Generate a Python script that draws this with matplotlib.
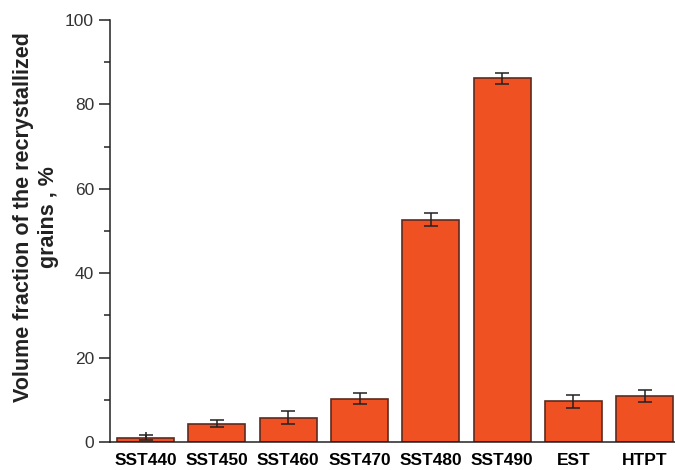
import matplotlib
matplotlib.use("Agg")
import matplotlib.pyplot as plt
from matplotlib.ticker import MultipleLocator

samples = ["SST440", "SST450", "SST460", "SST470", "SST480", "SST490", "EST", "HTPT"]
fraction = [1.0, 4.3, 5.8, 10.3, 52.7, 86.2, 9.6, 10.9]
fraction_err = [0.6, 0.8, 1.5, 1.2, 1.5, 1.3, 1.5, 1.5]

plt.rcParams["font.family"] = ["Liberation Sans", "DejaVu Sans"]

fig = plt.figure(figsize=(6.75, 4.7), dpi=100)
ax = fig.add_axes([0.163, 0.0596, 0.845, 0.8978])

x = list(range(len(samples)))
ax.bar(x, fraction, width=0.8, color="#F05123", edgecolor="#5e2a1c", linewidth=1.2, zorder=2)
ax.errorbar(x, fraction, yerr=fraction_err, fmt="none", ecolor="#222222",
            elinewidth=1.1, capsize=5, capthick=1.1, zorder=3)

ax.set_xlim(-0.5, 7.5)
ax.set_ylim(0, 100)
ax.set_xticks(x)
ax.set_xticklabels(samples, fontsize=12.5, fontweight="bold")
ax.yaxis.set_major_locator(MultipleLocator(20))
ax.yaxis.set_minor_locator(MultipleLocator(10))
ax.tick_params(axis="x", direction="in", length=7, width=1.1, pad=8, color="#222222")
ax.tick_params(axis="y", which="major", direction="out", length=8, width=1.1,
               labelsize=12.5, labelcolor="#333333", color="#222222")
ax.tick_params(axis="y", which="minor", direction="out", length=4.5, width=1.1, color="#222222")

for side in ("top", "right"):
    ax.spines[side].set_visible(False)
for side in ("left", "bottom"):
    ax.spines[side].set_linewidth(1.1)
    ax.spines[side].set_color("#222222")

ax.set_ylabel("Volume fraction of the recrystallized\ngrains , %", fontsize=15.5,
              fontweight="bold", linespacing=1.2,
              multialignment="center", color="#222222")
ax.yaxis.set_label_coords(-0.09, 0.533)

fig.savefig("out.png", dpi=100)
